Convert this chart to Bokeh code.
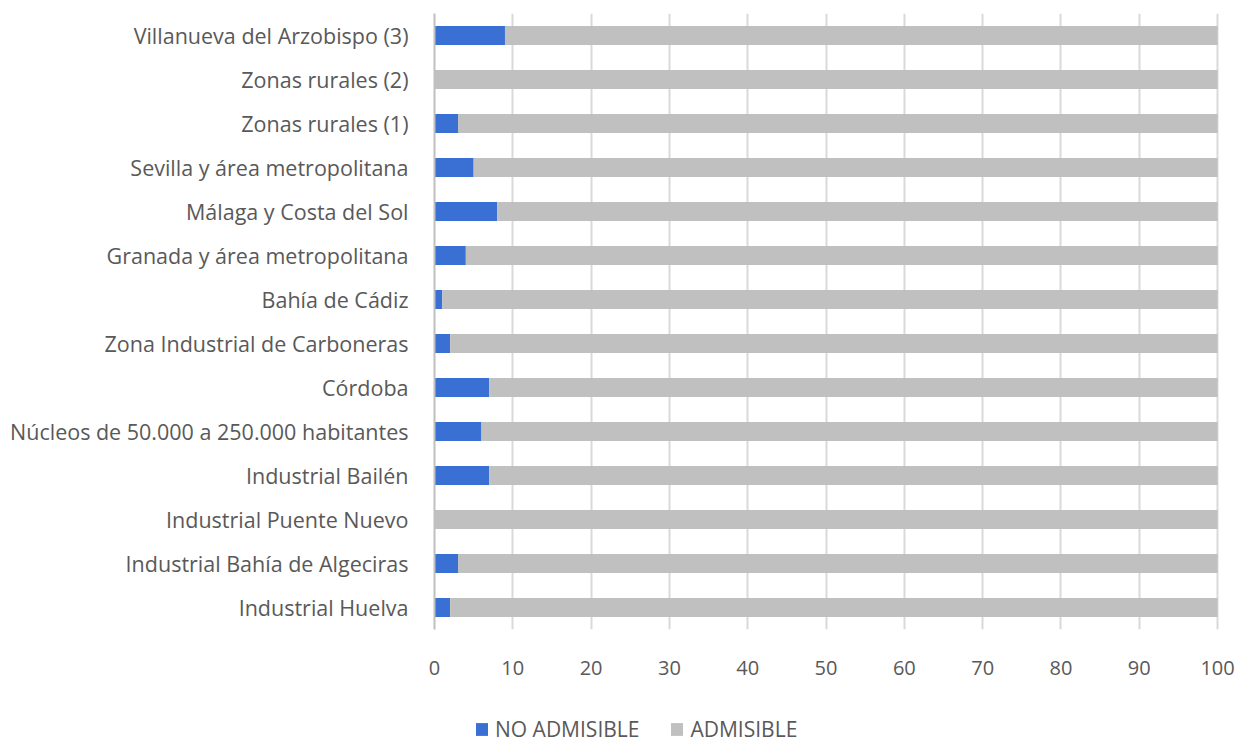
from bokeh.plotting import figure
from bokeh.layouts import column
from bokeh.models import FactorRange, Range1d, Legend, LegendItem, FixedTicker, ColumnDataSource
from bokeh.embed import file_html
from bokeh.resources import INLINE

# Categories, top to bottom as in the reference
categories_top_down = [
    "Villanueva del Arzobispo (3)",
    "Zonas rurales (2)",
    "Zonas rurales (1)",
    "Sevilla y área metropolitana",
    "Málaga y Costa del Sol",
    "Granada y área metropolitana",
    "Bahía de Cádiz",
    "Zona Industrial de Carboneras",
    "Córdoba",
    "Núcleos de 50.000 a 250.000 habitantes",
    "Industrial Bailén",
    "Industrial Puente Nuevo",
    "Industrial Bahía de Algeciras",
    "Industrial Huelva",
]
no_admisible = [9, 0, 3, 5, 8, 4, 1, 2, 7, 6, 7, 0, 3, 2]
admisible = [91, 100, 97, 95, 92, 96, 99, 98, 93, 94, 93, 100, 97, 98]
x_ticks = [0, 10, 20, 30, 40, 50, 60, 70, 80, 90, 100]
series_labels = ["NO ADMISIBLE", "ADMISIBLE"]
series_colors = ["#3A6FD3", "#C0C0C0"]

source = ColumnDataSource(data=dict(
    cat=categories_top_down,
    no_admisible=no_admisible,
    admisible=admisible,
))

FONT = "Open Sans"
TEXT_COLOR = "#595959"

p = figure(
    frame_width=787, frame_height=616,
    y_range=FactorRange(factors=list(reversed(categories_top_down)), range_padding=0),
    x_range=Range1d(0, 100.5),
    output_backend="svg", toolbar_location=None,
    min_border_left=434, min_border_right=22, min_border_top=13, min_border_bottom=58,
)
p.outline_line_color = None
p.background_fill_color = "white"
p.border_fill_color = "white"

renderers = p.hbar_stack(["no_admisible", "admisible"], y="cat", height=0.43,
                         color=series_colors, line_color=None, source=source)

# Grid
p.ygrid.grid_line_color = None
p.xgrid.grid_line_color = "#D9D9D9"
p.xgrid.grid_line_width = 2
p.xgrid.ticker = FixedTicker(ticks=x_ticks)

# X axis
p.xaxis.ticker = FixedTicker(ticks=x_ticks)
p.xaxis.axis_line_color = None
p.xaxis.major_tick_line_color = None
p.xaxis.minor_tick_line_color = None
p.xaxis.major_label_standoff = 25
p.xaxis.major_label_text_font = FONT
p.xaxis.major_label_text_font_size = "20px"
p.xaxis.major_label_text_color = TEXT_COLOR

# Y axis
p.yaxis.axis_line_color = "#BFBFBF"
p.yaxis.axis_line_width = 2
p.yaxis.major_tick_line_color = None
p.yaxis.minor_tick_line_color = None
p.yaxis.major_label_standoff = 20
p.yaxis.major_label_text_font = FONT
p.yaxis.major_label_text_font_size = "21.5px"
p.yaxis.major_label_text_color = TEXT_COLOR

# Legend strip below the chart (its own small figure, so the legend is not clipped).
# Its renderers share the chart's data but are hidden; they only supply legend swatches.
pl = figure(
    width=1243, height=58,
    y_range=FactorRange(factors=list(reversed(categories_top_down)), range_padding=0),
    x_range=Range1d(0, 100.5),
    x_axis_type=None, y_axis_type=None,
    output_backend="svg", toolbar_location=None,
    min_border_left=0, min_border_right=0, min_border_top=0, min_border_bottom=0,
)
pl.outline_line_color = None
pl.grid.visible = False
legend_renderers = pl.hbar_stack(["no_admisible", "admisible"], y="cat", height=0.43,
                                 color=series_colors, line_color=None, source=source)
for r in legend_renderers:
    r.visible = False

legend = Legend(
    items=[LegendItem(label=series_labels[i], renderers=[legend_renderers[i]]) for i in range(2)],
    orientation="horizontal",
    location=(40, 2),
    glyph_width=15, glyph_height=16,
    label_standoff=6, spacing=30,
    padding=0, margin=0,
    border_line_color=None, background_fill_alpha=0,
    inactive_fill_alpha=0,
    label_text_font=FONT, label_text_font_size="21px", label_text_color=TEXT_COLOR,
)
pl.add_layout(legend, "center")

layout = column(p, pl, spacing=0)
open("out.html", "w").write(file_html(layout, INLINE))
